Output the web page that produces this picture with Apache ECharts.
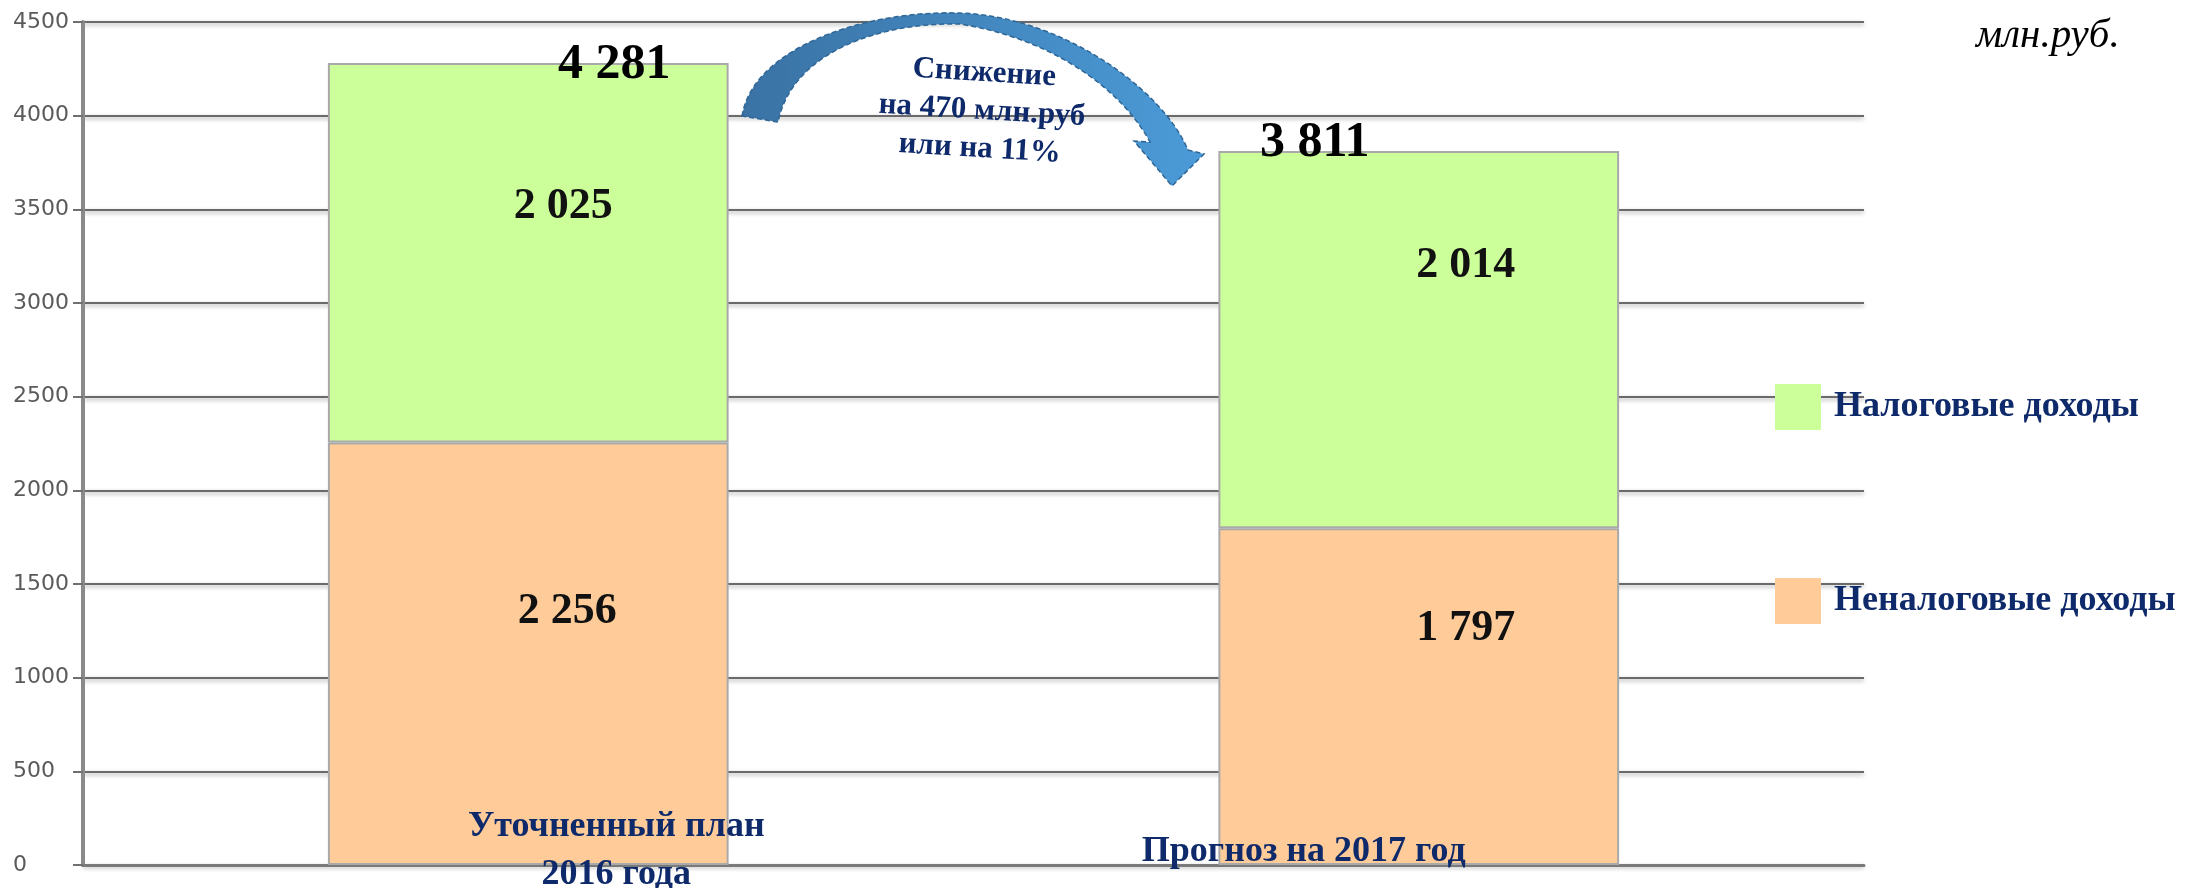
<!DOCTYPE html>
<html>
<head>
<meta charset="utf-8">
<title>Доходы</title>
<script src="https://cdn.jsdelivr.net/npm/echarts@6/dist/echarts.min.js"></script>
<style>
  html, body { margin: 0; padding: 0; background: #fff; }
  #chart { width: 2192px; height: 888px; }
</style>
</head>
<body>
<div id="chart"></div>
<script>
  // данные, млн.руб.
  var categories = ['Уточненный план\n2016 года', 'Прогноз на 2017 год'];
  var taxIncome = [2025, 2014];      // Налоговые доходы
  var nonTaxIncome = [2256, 1797];   // Неналоговые доходы
  var totals = [4281, 3811];
  var yMin = 0, yMax = 4500, yStep = 500;

  var navy = '#0f2a6a';
  var serif = '"Liberation Serif", "Times New Roman", serif';

  function fmt(v) {
    return String(v).replace(/\B(?=(\d{3})+(?!\d))/g, ' ');
  }

  // точки кубической кривой Безье (для контура стрелки)
  function bezier(p0, p1, p2, p3, n) {
    var pts = [];
    for (var k = 0; k <= n; k++) {
      var t = k / n, u = 1 - t;
      pts.push([
        u * u * u * p0[0] + 3 * u * u * t * p1[0] + 3 * u * t * t * p2[0] + t * t * t * p3[0],
        u * u * u * p0[1] + 3 * u * u * t * p1[1] + 3 * u * t * t * p2[1] + t * t * t * p3[1]
      ]);
    }
    return pts;
  }

  var arrowPts = []
    .concat(bezier([742, 116], [752, 50], [860, 10], [960, 13], 24))
    .concat(bezier([960, 13], [1060, 16], [1162, 88], [1188, 150], 24).slice(1))
    .concat([[1204, 154], [1172, 186], [1134, 141]])
    .concat(bezier([1150, 142], [1125, 95], [1060, 40], [960, 24], 24))
    .concat(bezier([960, 24], [880, 22], [792, 52], [778, 122], 24).slice(1));

  var myChart = echarts.init(document.getElementById('chart'));

  var option = {
    animation: false,
    title: {
      text: 'млн.руб.',
      left: 1971,
      top: 11,
      textStyle: { fontFamily: serif, fontStyle: 'italic', fontWeight: 'normal', fontSize: 41, color: '#000' }
    },
    legend: {
      data: ['Налоговые доходы', 'Неналоговые доходы'],
      orient: 'vertical',
      left: 1770,
      top: 379,
      icon: 'rect',
      itemWidth: 46,
      itemHeight: 46,
      itemGap: 148,
      selectedMode: false,
      itemStyle: { borderWidth: 0 },
      textStyle: { fontFamily: serif, fontWeight: 'bold', fontSize: 36, color: navy, padding: [0, 0, 0, 8] }
    },
    grid: { left: 83, right: 328, top: 22, bottom: 23 },
    xAxis: {
      type: 'category',
      data: categories,
      axisLine: { lineStyle: { color: '#7a7a7a', width: 3 } },
      axisTick: { show: false },
      axisLabel: { show: false }
    },
    yAxis: {
      type: 'value',
      min: yMin,
      max: yMax,
      interval: yStep,
      axisLine: { show: true, lineStyle: { color: '#8a8a8a', width: 4 } },
      axisTick: { show: true, length: 10, lineStyle: { color: '#707070', width: 2 } },
      axisLabel: {
        align: 'left',
        margin: 70,
        formatter: function (v) { return String(v); },
        fontFamily: '"DejaVu Sans", Verdana, sans-serif',
        fontSize: 22,
        color: '#5a5a5a'
      },
      splitLine: {
        lineStyle: {
          color: '#6a6a6a', width: 2,
          shadowColor: 'rgba(0,0,0,0.35)', shadowBlur: 4, shadowOffsetY: 2
        }
      }
    },
    series: [
      {
        name: 'Неналоговые доходы',
        type: 'bar',
        stack: 'total',
        barWidth: '45%',
        itemStyle: { color: '#ffcc99', borderColor: '#a9a9a9', borderWidth: 2 },
        label: {
          show: true, position: 'inside',
          formatter: function (p) { return fmt(p.value); },
          fontFamily: serif, fontWeight: 'bold', fontSize: 44, color: '#111'
        },
        data: nonTaxIncome.map(function (v, i) {
          return { value: v, label: { offset: i === 0 ? [39, -42] : [47, -68] } };
        })
      },
      {
        name: 'Налоговые доходы',
        type: 'bar',
        stack: 'total',
        barWidth: '45%',
        itemStyle: { color: '#ccff99', borderColor: '#a9a9a9', borderWidth: 2 },
        label: {
          show: true, position: 'inside',
          formatter: function (p) { return fmt(p.value); },
          fontFamily: serif, fontWeight: 'bold', fontSize: 44, color: '#111'
        },
        data: taxIncome.map(function (v, i) {
          return { value: v, label: { offset: i === 0 ? [35, -46] : [47, -74] } };
        })
      },
      {
        // итоги над столбцами
        name: 'Итого',
        type: 'scatter',
        symbolSize: 1,
        silent: true,
        z: 5,
        itemStyle: { color: 'rgba(0,0,0,0)', opacity: 1 },
        label: {
          show: true, position: 'inside',
          formatter: function (p) { return fmt(p.value[1]); },
          fontFamily: serif, fontWeight: 'bold', fontSize: 50, color: '#000'
        },
        data: totals.map(function (v, i) {
          return { value: [i, v], label: { offset: i === 0 ? [86, 2] : [-104, -8] } };
        })
      },
      {
        // подписи категорий
        name: 'Категории',
        type: 'scatter',
        symbolSize: 1,
        silent: true,
        z: 5,
        itemStyle: { color: 'rgba(0,0,0,0)', opacity: 1 },
        label: {
          show: true, position: 'inside',
          formatter: function (p) { return categories[p.dataIndex]; },
          fontFamily: serif, fontWeight: 'bold', fontSize: 36, lineHeight: 48, color: navy
        },
        data: categories.map(function (c, i) {
          return { value: [i, 0], label: { offset: i === 0 ? [88, -14] : [-115, -13] } };
        })
      }
    ],
    graphic: [
      {
        // изогнутая стрелка
        type: 'polygon',
        z: 100,
        shape: { points: arrowPts },
        style: {
          fill: {
            type: 'linear', x: 0, y: 0, x2: 1, y2: 0,
            colorStops: [
              { offset: 0, color: '#3a72a4' },
              { offset: 1, color: '#4b9bd8' }
            ]
          },
          stroke: '#2f6696',
          lineWidth: 1.5,
          lineDash: [5, 3]
        }
      },
      {
        type: 'text',
        z: 100,
        x: 982,
        y: 111,
        rotation: -0.06,
        style: {
          text: 'Снижение\nна 470 млн.руб\nили на 11%',
          font: 'bold 31px ' + serif,
          fill: navy,
          align: 'center',
          verticalAlign: 'middle',
          lineHeight: 38
        }
      }
    ]
  };

  myChart.setOption(option);
</script>
</body>
</html>
